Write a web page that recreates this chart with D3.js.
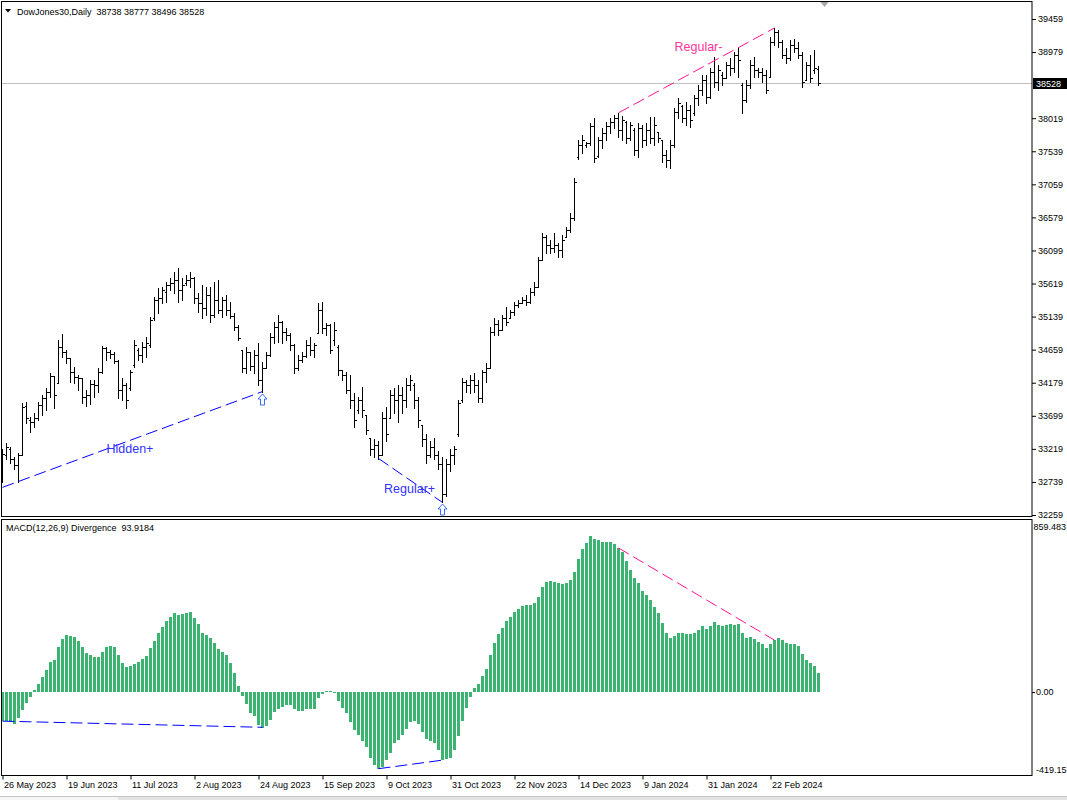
<!DOCTYPE html>
<html>
<head>
<meta charset="utf-8">
<script src="https://cdn.jsdelivr.net/npm/d3@7"></script>
<style>
  body { margin: 0; background: #fff; }
  text { font-family: "Liberation Sans", Arial, sans-serif; font-size: 9px; fill: #000; white-space: pre; }
</style>
</head>
<body>
<svg id="chart"></svg>
<script>
// --- data ---
var dateLabels = ["26 May 2023", "19 Jun 2023", "11 Jul 2023", "2 Aug 2023", "24 Aug 2023", "15 Sep 2023",
  "9 Oct 2023", "31 Oct 2023", "22 Nov 2023", "14 Dec 2023", "9 Jan 2024", "31 Jan 2024", "22 Feb 2024"];
var priceTicks = [39459, 38979, 38019, 37539, 37059, 36579, 36099, 35619, 35139, 34659, 34179, 33699, 33219, 32739, 32259];
var macdTicks = [859.483, 0, -419.15];
var macdTickLabels = ["859.483", "0.00", "-419.15"];
var lastPrice = 38528;
var lastMacd = 93.9184;

var open = [32847,33137,33210,33065,32978,33137,33848,33645,33616,33674,33862,33964,34051,34283,34182,34704,34631,34544,34341,34269,
  34254,33979,34008,34167,34153,34341,34689,34631,34602,34501,34080,34153,34109,34443,34660,34588,34704,34733,35124,35385,
  35414,35501,35602,35632,35675,35530,35632,35675,35704,35414,35341,35269,35458,35168,35385,35240,35385,35240,35153,34994,
  34660,34399,34631,34428,34588,34225,34399,34588,34849,34994,35066,34921,34878,34733,34399,34515,34573,34733,34660,34907,
  35240,34979,35023,34805,34704,34370,34298,34080,33935,33790,33935,33717,33384,33210,33282,33137,33674,33674,34008,33935,
  34008,33935,34153,34153,33935,33572,33355,33137,33239,33137,32993,32558,32993,33137,33428,33935,34196,34153,34225,34153,
  33964,34341,34399,34921,35037,34950,35124,35124,35211,35313,35341,35385,35356,35501,35574,35965,36299,36183,36139,36183,
  36110,36299,36400,36574,37459,37632,37632,37662,37908,37473,37705,37807,37908,37966,38024,37850,37966,37734,37850,37560,
  37879,37705,37850,37734,37821,37705,37488,37415,37632,38111,38198,38024,38140,38097,38314,38430,38575,38329,38691,38546,
  38648,38604,38793,38749,38938,38503,38285,38503,38793,38720,38691,38648,38619,39126,39271,39126,38938,38894,39083,39039,
  38938,38575,38793,38720,38738];
var high = [33210,33311,33239,33094,33166,33891,33906,33688,33746,33906,34008,34109,34326,34283,34805,34892,34660,34544,34414,34298,
  34254,34080,34225,34225,34399,34718,34704,34660,34631,34515,34254,34182,34370,34805,34689,34776,34849,35139,35429,35559,
  35574,35646,35704,35791,35849,35704,35747,35791,35718,35487,35602,35574,35574,35646,35675,35429,35458,35356,35197,35010,
  34660,34704,34631,34660,34762,34486,34631,34907,35066,35168,35080,34979,34907,34740,34588,34631,34805,34849,34762,35341,
  35356,35052,35030,35066,34733,34370,34341,34298,34037,33979,34124,33717,33384,33355,33326,33761,33833,34080,34109,34153,
  34124,34254,34298,34182,33979,33572,33428,33326,33384,33181,33108,33065,33210,33254,33935,34254,34225,34298,34326,34225,
  34370,34472,34994,35124,35095,35168,35284,35240,35356,35385,35429,35458,35559,35646,36009,36357,36328,36255,36357,36212,
  36328,36444,36647,37154,37705,37777,37676,37952,38024,37749,37879,37966,38024,38068,38097,38053,37981,37966,37879,37952,
  37923,37952,38039,38039,37821,37705,37560,37705,38169,38314,38213,38256,38213,38358,38503,38648,38648,38749,38909,38793,
  38691,38836,38894,38981,39039,38532,38575,38865,38909,38749,38749,38720,39199,39329,39300,39155,39039,39155,39170,39126,
  38981,38836,38938,39010,38777];
var low = [32731,33065,33021,32920,32731,33137,33601,33457,33543,33645,33717,33790,33979,33805,34182,34559,34472,34196,34182,34080,
  33891,33848,33877,33979,34051,34326,34515,34544,34472,33964,33935,33819,34080,34414,34515,34486,34559,34704,35095,35197,
  35341,35356,35530,35487,35356,35385,35602,35574,35341,35211,35124,35168,35066,35139,35197,35139,35168,35124,34950,34805,
  34341,34326,34370,34326,34153,34051,34399,34570,34762,34776,34762,34805,34660,34326,34370,34486,34559,34588,34559,34907,
  34907,34878,34617,34733,34298,34225,34037,33819,33543,33746,33688,33428,33137,33108,33079,33137,33326,33674,33746,33616,
  33746,33833,34080,33819,33543,33254,33021,33108,33065,32920,32441,32529,32891,32993,33399,33906,34051,34037,34051,33906,
  33906,34196,34399,34878,34878,34950,35023,35124,35168,35284,35341,35313,35341,35458,35574,35965,36067,36067,36081,36009,
  36009,36299,36371,36545,37430,37516,37604,37632,37386,37459,37589,37705,37807,37879,37749,37705,37662,37705,37488,37459,
  37604,37632,37662,37632,37676,37386,37314,37299,37604,38024,37966,37923,37894,38068,38213,38358,38242,38314,38474,38430,
  38503,38604,38648,38691,38619,38097,38256,38459,38619,38619,38546,38387,38619,39083,39054,38894,38822,38865,38981,38894,
  38474,38575,38546,38677,38496];
var close = [33138,33239,33065,32978,33137,33833,33674,33616,33674,33862,33964,34051,34283,34008,34704,34631,34544,34341,34269,34254,
  33979,34008,34167,34153,34341,34689,34631,34602,34501,34080,34153,33935,34341,34733,34588,34704,34762,35095,35385,35414,
  35530,35602,35632,35675,35530,35602,35675,35704,35414,35341,35269,35458,35168,35385,35240,35385,35240,35153,34994,34834,
  34399,34631,34428,34588,34225,34399,34588,34849,34994,35066,34921,34878,34733,34399,34515,34573,34733,34660,34733,35240,
  34979,35023,34660,34950,34370,34298,34080,33935,33645,33935,33790,33500,33210,33282,33137,33674,33428,34008,33935,34008,
  33935,34153,34225,33935,33645,33355,33137,33239,33137,32993,32558,32993,33137,33210,33891,34196,34153,34225,34153,33964,
  34341,34399,34921,35037,34950,35124,35066,35211,35313,35341,35385,35356,35501,35574,35965,36299,36183,36139,36183,36110,
  36255,36400,36574,37096,37632,37705,37662,37908,37444,37705,37807,37908,37966,38024,37850,37995,37734,37923,37560,37879,
  37705,37850,37734,37923,37734,37488,37415,37632,38111,38242,38024,38140,37995,38314,38430,38575,38329,38691,38546,38720,
  38604,38793,38749,38938,38865,38285,38503,38793,38720,38691,38648,38430,39126,39271,39126,38938,38894,39083,39039,38938,
  38546,38793,38604,38749,38528];
var macd = [-146,-146,-148,-159,-131,-90,-54,-24,10,40,77,111,151,161,228,268,286,281,275,256,
  225,195,186,177,177,200,228,231,228,186,144,127,132,141,149,166,181,223,256,297,
  328,358,378,396,387,391,396,402,373,342,295,288,273,245,218,203,186,144,94,30,
  -19,-60,-104,-121,-166,-179,-171,-141,-101,-87,-74,-65,-65,-85,-94,-94,-87,-85,-85,-29,
  -9,3,3,-7,-44,-79,-104,-149,-191,-216,-246,-275,-330,-367,-385,-375,-342,-305,-258,-241,
  -216,-186,-149,-146,-161,-200,-236,-245,-255,-292,-342,-338,-330,-292,-221,-146,-79,-24,20,40,
  80,116,186,245,292,320,357,375,402,416,432,437,437,446,476,526,554,556,551,549,
  543,549,563,603,668,719,749,784,769,762,754,754,754,744,724,704,658,613,574,549,
  508,488,462,427,397,347,297,273,281,295,295,292,292,295,312,332,317,332,352,335,
  332,337,342,337,342,297,271,276,266,251,241,221,241,261,271,261,246,241,241,231,
  191,161,146,131,93.9184];

// divergence lines: [bar from, value from, bar to, value to]
var priceDivs = [[0, 32660, 65, 34051], [94, 33079, 110, 32441], [154, 38097, 193, 39329]];
var macdDivs = [[0, -146, 65, -177], [94, -385, 110, -342], [154, 724, 193, 261]];
var divKinds = ["bull", "bull", "bear"];
var divNames = ["Hidden+", "Regular+", "Regular-"];
// label anchor in data space: [bar, price]
var divLabelPos = [[26, 33166], [95.4, 32572], [168, 38996]];
var arrowBars = [65, 110];

// --- layout ---
var W = 1067, H = 800;
var plotL = 1.5, plotR = 1032;
var pTop = 1.5, pBot = 516.5, mTop = 519.5, mBot = 775.5;
var colors = { bull: "#0000ff", bear: "#ff1493" };
var textColors = { bull: "#3030ff", bear: "#ff3399" };

var svg = d3.select("#chart").attr("width", W).attr("height", H);
svg.append("rect").attr("width", W).attr("height", H).attr("fill", "#fff");

var x = d3.scaleLinear().domain([0, 204]).range([2.5, 818.5]);
var yP = d3.scaleLinear().domain([32259, 39459]).range([515, 19]);
var yM = d3.scaleLinear().domain([-419.15, 859.483]).range([mBot, 521]);

var defs = svg.append("defs");
defs.append("clipPath").attr("id", "clipP").append("rect")
  .attr("x", plotL).attr("y", pTop).attr("width", plotR - plotL).attr("height", pBot - pTop);
defs.append("clipPath").attr("id", "clipM").append("rect")
  .attr("x", plotL).attr("y", mTop).attr("width", plotR - plotL).attr("height", mBot - mTop);

var crisp = function (v) { return Math.round(v) + 0.5; };

// ---------- price panel ----------
var gP = svg.append("g").attr("clip-path", "url(#clipP)");

gP.append("line")
  .attr("x1", plotL).attr("x2", plotR)
  .attr("y1", crisp(yP(lastPrice))).attr("y2", crisp(yP(lastPrice)))
  .attr("stroke", "#c0c0c0");

gP.append("g").selectAll("path").data(open).join("path")
  .attr("d", function (o, i) {
    var cx = x(i);
    return "M" + cx + "," + Math.round(yP(high[i])) + "V" + (Math.round(yP(low[i])) + 1) +
      "M" + (cx - 2) + "," + crisp(yP(o)) + "H" + cx +
      "M" + cx + "," + crisp(yP(close[i])) + "H" + (cx + 2);
  })
  .attr("stroke", "#000").attr("stroke-width", 1).attr("fill", "none")
  .attr("shape-rendering", "crispEdges");

gP.append("g").selectAll("line").data(priceDivs).join("line")
  .attr("x1", function (d) { return x(d[0]); }).attr("y1", function (d) { return yP(d[1]); })
  .attr("x2", function (d) { return x(d[2]); }).attr("y2", function (d) { return yP(d[3]); })
  .attr("stroke", function (d, i) { return colors[divKinds[i]]; })
  .attr("stroke-width", 1).attr("stroke-dasharray", "12,5");

gP.append("g").selectAll("text").data(divLabelPos).join("text")
  .attr("x", function (d) { return x(d[0]); }).attr("y", function (d) { return yP(d[1]); })
  .style("font-size", "12.5px")
  .style("fill", function (d, i) { return textColors[divKinds[i]]; })
  .text(function (d, i) { return divNames[i]; });

// outline up arrows under the troughs
gP.append("g").selectAll("path").data(arrowBars).join("path")
  .attr("transform", function (b) { return "translate(" + x(b) + "," + (Math.round(yP(low[b])) + 2) + ")"; })
  .attr("d", "M0,0 L4.5,5 L2,5 L2,11 L-2,11 L-2,5 L-4.5,5 Z")
  .attr("fill", "#fff").attr("stroke", "#3a6cff").attr("stroke-width", 1);

// title
svg.append("path").attr("d", "M5,9 H11 L8,12.5 Z").attr("fill", "#000");
svg.append("text").attr("x", 17).attr("y", 14.5)
  .text("DowJones30,Daily  38738 38777 38496 38528");
// chart shift marker
svg.append("path").attr("d", "M820.5,2 H828.5 L824.5,7 Z").attr("fill", "#a8a8a8");

// price axis
var axP = svg.append("g").attr("transform", "translate(" + plotR + ",0)")
  .call(d3.axisRight(yP).tickValues(priceTicks).tickSize(4).tickPadding(2).tickFormat(d3.format("d")));
axP.select(".domain").remove();
axP.selectAll("text").style("font-size", "9px").attr("fill", "#000");

var lpY = Math.round(yP(lastPrice));
svg.append("rect").attr("x", 1033).attr("y", lpY - 5).attr("width", 34).attr("height", 11).attr("fill", "#000");
svg.append("text").attr("x", 1036).attr("y", lpY + 3.5).style("fill", "#fff").text(String(lastPrice));

// ---------- MACD panel ----------
var gM = svg.append("g").attr("clip-path", "url(#clipM)");
gM.append("g").selectAll("rect").data(macd).join("rect")
  .attr("x", function (d, i) { return x(i) - 1.5; })
  .attr("width", 3)
  .attr("y", function (d) { return Math.min(yM(d), yM(0)); })
  .attr("height", function (d) { return Math.max(1, Math.abs(yM(d) - yM(0))); })
  .attr("fill", "#3cb371")
  .attr("shape-rendering", "crispEdges");

gM.append("g").selectAll("line").data(macdDivs).join("line")
  .attr("x1", function (d) { return x(d[0]); }).attr("y1", function (d) { return yM(d[1]); })
  .attr("x2", function (d) { return x(d[2]); }).attr("y2", function (d) { return yM(d[3]); })
  .attr("stroke", function (d, i) { return colors[divKinds[i]]; })
  .attr("stroke-width", 1).attr("stroke-dasharray", "12,5");

svg.append("text").attr("x", 6).attr("y", 531)
  .text("MACD(12,26,9) Divergence  " + lastMacd);

var axM = svg.append("g").attr("transform", "translate(" + plotR + ",0)")
  .call(d3.axisRight(yM).tickValues(macdTicks).tickSize(3).tickPadding(1)
    .tickFormat(function (d, i) { return macdTickLabels[i]; }));
axM.select(".domain").remove();
axM.selectAll("text").style("font-size", "9px").attr("fill", "#000")
  .attr("x", function (d, i) { return i === 0 ? 1.5 : 4; })
  .attr("dy", function (d, i) { return i === 0 ? "0.95em" : (i === 2 ? "-0.3em" : "0.32em"); });
axM.selectAll(".tick").filter(function (d, i) { return i !== 1; }).select("line").remove();

// ---------- date axis ----------
var axD = svg.append("g").attr("transform", "translate(0," + mBot + ")")
  .call(d3.axisBottom(x).tickValues(dateLabels.map(function (d, i) { return i * 16; }))
    .tickSize(4).tickPadding(2)
    .tickFormat(function (d, i) { return dateLabels[i]; }));
axD.select(".domain").remove();
axD.selectAll("text").style("font-size", "9px").attr("fill", "#000")
  .attr("text-anchor", "start").attr("x", 1);

// ---------- frames ----------
svg.append("rect").attr("x", plotL).attr("y", pTop).attr("width", plotR - plotL).attr("height", pBot - pTop)
  .attr("fill", "none").attr("stroke", "#000");
svg.append("rect").attr("x", plotL).attr("y", mTop).attr("width", plotR - plotL).attr("height", mBot - mTop)
  .attr("fill", "none").attr("stroke", "#000");

// bottom tab strip
svg.append("rect").attr("x", 0).attr("y", 796).attr("width", W).attr("height", 4).attr("fill", "#e4e4e4");
svg.append("line").attr("x1", 0).attr("x2", W).attr("y1", 796.5).attr("y2", 796.5).attr("stroke", "#c4c4c4");
svg.append("rect").attr("x", 0).attr("y", 797).attr("width", 118).attr("height", 3).attr("fill", "#f6f6f6");
</script>
</body>
</html>
